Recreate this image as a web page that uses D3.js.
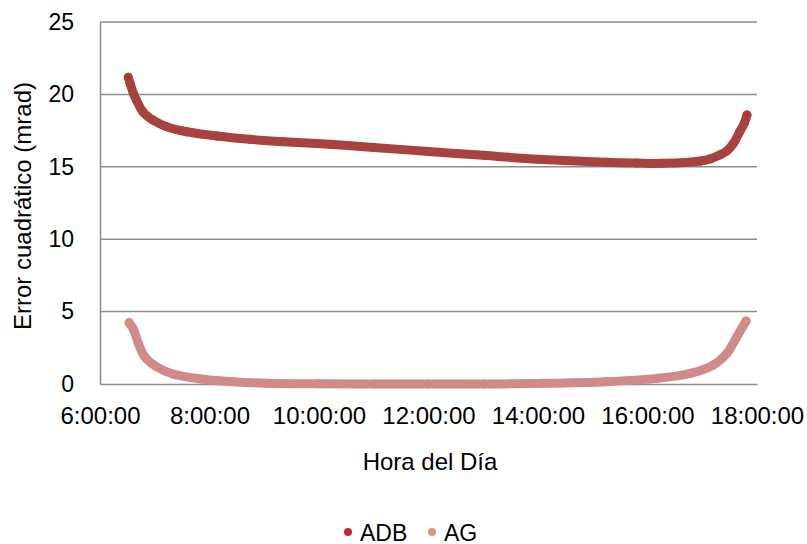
<!DOCTYPE html>
<html>
<head>
<meta charset="utf-8">
<script src="https://cdn.jsdelivr.net/npm/d3@7"></script>
<style>
  html, body { margin: 0; padding: 0; background: #fff; }
  svg text { font-family: "Liberation Sans", Arial, sans-serif; fill: #000; }
</style>
</head>
<body>
<svg id="chart" width="807" height="544"></svg>
<script>
// ---- data ----
const yTicks = [0, 5, 10, 15, 20, 25];
const xTickLabels = ["6:00:00", "8:00:00", "10:00:00", "12:00:00", "14:00:00", "16:00:00", "18:00:00"];

const adbTimes = ["6:31", "6:33", "6:37", "6:40", "6:47", "6:58", "7:13", "7:35", "8:08", "8:44", "9:21",
  "10:12", "11:00", "12:00", "13:00", "14:00", "15:15", "15:48", "16:17", "16:58", "17:09", "17:19",
  "17:27", "17:34", "17:41", "17:46", "17:49"];
const adbValues = [21.18, 20.77, 20.0, 19.6, 18.8, 18.23, 17.77, 17.42, 17.13, 16.9, 16.73,
  16.55, 16.33, 16.06, 15.79, 15.52, 15.31, 15.26, 15.24, 15.4, 15.55, 15.81,
  16.1, 16.6, 17.42, 18.0, 18.58];

const agTimes = ["6:32", "6:37", "6:42", "6:49", "7:02", "7:20", "7:50", "8:26", "9:02", "10:00", "11:00",
  "12:00", "13:00", "14:00", "15:15", "16:10", "16:47", "17:12", "17:27", "17:38", "17:48"];
const agValues = [4.23, 3.73, 2.81, 1.89, 1.19, 0.69, 0.35, 0.16, 0.05, 0.01, 0.0,
  0.0, 0.0, 0.04, 0.16, 0.39, 0.74, 1.31, 2.12, 3.27, 4.35];

const seriesNames = ["ADB", "AG"];
const bandColors = ["#A8423F", "#D08A88"];
const legendColors = ["#C0282D", "#E0937F"];

// ---- layout ----
const svg = d3.select("#chart");
const parse = d3.timeParse("%H:%M");

const x = d3.scaleTime()
  .domain([parse("6:00"), parse("18:00")])
  .range([100, 757]);
const y = d3.scaleLinear().domain([0, 25]).range([384, 22]);

// gridlines
svg.append("g").selectAll("line")
  .data(yTicks.filter(d => d > 0))
  .join("line")
  .attr("x1", 100).attr("x2", 757)
  .attr("y1", d => y(d)).attr("y2", d => y(d))
  .attr("stroke", "#8c8c8c").attr("stroke-width", 1.5);

// y axis
const yAxis = svg.append("g")
  .attr("transform", "translate(100,0)")
  .call(d3.axisLeft(y).tickValues(yTicks).tickSize(0).tickPadding(26));
yAxis.select(".domain").attr("stroke", "#8c8c8c").attr("stroke-width", 1.5);
yAxis.selectAll("text").attr("font-size", 23).style("font-family", "Liberation Sans, Arial, sans-serif");

// x axis
const xTickDates = xTickLabels.map(s => d3.timeParse("%H:%M:%S")(s));
const xAxis = svg.append("g")
  .attr("transform", "translate(0,384)")
  .call(d3.axisBottom(x).tickValues(xTickDates).tickSize(0).tickPadding(23)
    .tickFormat((d, i) => xTickLabels[i]));
xAxis.select(".domain").attr("stroke", "#8c8c8c").attr("stroke-width", 1.5);
xAxis.selectAll("text").attr("font-size", 24).style("font-family", "Liberation Sans, Arial, sans-serif");

// axis titles
svg.append("text")
  .attr("x", 430).attr("y", 470)
  .attr("text-anchor", "middle")
  .attr("font-size", 24)
  .text("Hora del Día");

svg.append("text")
  .attr("transform", "translate(31,206) rotate(-90)")
  .attr("text-anchor", "middle")
  .attr("font-size", 24)
  .text("Error cuadrático (mrad)");

// series
const series = [
  { times: adbTimes, values: adbValues },
  { times: agTimes, values: agValues }
].map((s, i) => ({
  name: seriesNames[i],
  color: bandColors[i],
  pts: s.times.map((t, j) => ({ t: parse(t), v: s.values[j] }))
}));

const line = d3.line()
  .x(d => x(d.t)).y(d => y(d.v))
  .curve(d3.curveCatmullRom.alpha(0.5));

const g = svg.append("g");
series.forEach((s, i) => {
  g.append("path")
    .datum(s.pts)
    .attr("d", line)
    .attr("fill", "none")
    .attr("stroke", s.color)
    .attr("stroke-width", 9)
    .attr("stroke-linecap", "round")
    .attr("stroke-linejoin", "round");
  g.append("g").selectAll("circle")
    .data(s.pts)
    .join("circle")
    .attr("cx", d => x(d.t)).attr("cy", d => y(d.v))
    .attr("r", 4.5)
    .attr("fill", s.color);
  // end markers slightly brighter
  g.append("g").selectAll("circle")
    .data([s.pts[0], s.pts[s.pts.length - 1]])
    .join("circle")
    .attr("cx", d => x(d.t)).attr("cy", d => y(d.v))
    .attr("r", 2)
    .attr("fill", legendColors[i]);
});

// legend
const legendX = [348, 432];
const leg = svg.append("g");
seriesNames.forEach((n, i) => {
  leg.append("circle").attr("cx", legendX[i]).attr("cy", 532).attr("r", 4).attr("fill", legendColors[i]);
  leg.append("text").attr("x", legendX[i] + 12).attr("y", 540.5)
    .attr("font-size", 23).text(n);
});
</script>
</body>
</html>
